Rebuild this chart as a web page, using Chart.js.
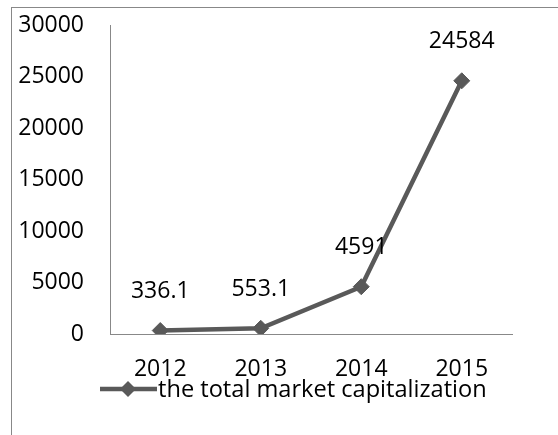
<!DOCTYPE html>
<html>
<head>
<meta charset="utf-8">
<script src="https://cdn.jsdelivr.net/npm/chart.js@4"></script>
<style>
  html, body { margin: 0; padding: 0; background: #fff; }
  #wrap { position: relative; width: 558px; height: 435px; overflow: hidden; }
  #frame { position: absolute; left: 11px; top: 7px; right: -5px; bottom: -5px;
           border-left: 1px solid #888; border-top: 1px solid #888; }
  canvas { position: absolute; left: 0; top: 0; }
</style>
</head>
<body>
<div id="wrap">
  <div id="frame"></div>
  <canvas id="capChart" width="558" height="435"></canvas>
</div>
<script>
let years = ["2012", "2013", "2014", "2015"];
let capValues = [336.1, 553.1, 4591, 24584];
let yTicks = [0, 5000, 10000, 15000, 20000, 25000, 30000];
let seriesName = "the total market capitalization";

const FONT = "'Open Sans', sans-serif";
const FONT_SIZE = 23;
const LINE_COLOR = "#595959";

// value labels above each point
const valueLabels = {
    id: "valueLabels",
    afterDatasetsDraw(chart) {
        let ctx = chart.ctx;
        let meta = chart.getDatasetMeta(0);
        ctx.save();
        ctx.font = FONT_SIZE + "px " + FONT;
        ctx.fillStyle = "#000";
        ctx.textAlign = "center";
        ctx.textBaseline = "middle";
        meta.data.forEach((pt, i) => {
            ctx.fillText(String(capValues[i]), pt.x, pt.y - 39);
        });
        ctx.restore();
    }
};

// legend under the x labels: line + diamond + text
const lineLegend = {
    id: "lineLegend",
    afterDraw(chart) {
        let ctx = chart.ctx;
        let ds = chart.data.datasets[0];
        let y = 389;
        let r = ds.pointRadius;
        ctx.save();
        ctx.strokeStyle = ds.borderColor;
        ctx.lineWidth = ds.borderWidth;
        ctx.beginPath();
        ctx.moveTo(100, y);
        ctx.lineTo(157, y);
        ctx.stroke();
        ctx.fillStyle = ds.pointBackgroundColor;
        ctx.beginPath();
        ctx.moveTo(128 - r, y);
        ctx.lineTo(128, y - r);
        ctx.lineTo(128 + r, y);
        ctx.lineTo(128, y + r);
        ctx.closePath();
        ctx.fill();
        ctx.font = "23.6px " + FONT;
        ctx.fillStyle = "#000";
        ctx.textAlign = "left";
        ctx.textBaseline = "alphabetic";
        ctx.fillText(seriesName, 158, 397);
        ctx.restore();
    }
};

let ctx = document.getElementById("capChart").getContext("2d");
let chart = new Chart(ctx, {
    type: "line",
    data: {
        labels: years,
        datasets: [{
            label: seriesName,
            data: capValues,
            borderColor: LINE_COLOR,
            borderWidth: 4.5,
            tension: 0,
            pointStyle: "rectRot",
            pointRadius: 8,
            pointBackgroundColor: LINE_COLOR,
            pointBorderColor: LINE_COLOR,
            pointBorderWidth: 1
        }]
    },
    options: {
        responsive: false,
        animation: false,
        layout: { padding: { left: 0, top: 25, right: 46, bottom: 0 } },
        plugins: {
            legend: { display: false },
            tooltip: { enabled: false }
        },
        scales: {
            x: {
                offset: true,
                grid: { display: false, drawTicks: false },
                border: { display: true, color: "#888", width: 1 },
                ticks: { color: "#000", font: { family: FONT, size: FONT_SIZE }, padding: 22 },
                afterFit: function (scale) { scale.height = 101; }
            },
            y: {
                min: 0,
                max: 30000,
                afterBuildTicks: function (scale) {
                    scale.ticks = yTicks.map(v => ({ value: v }));
                },
                grid: { display: false, drawTicks: false },
                border: { display: true, color: "#888", width: 1 },
                ticks: {
                    color: "#000",
                    font: { family: FONT, size: FONT_SIZE },
                    padding: 26,
                    callback: function (v) { return String(v); }
                },
                afterFit: function (scale) {
                    scale.width = 110;
                    // tick padding is added to the top/bottom padding; drop it
                    scale.paddingTop = 0;
                    scale.paddingBottom = 0;
                }
            }
        }
    },
    plugins: [valueLabels, lineLegend]
});
</script>
</body>
</html>
